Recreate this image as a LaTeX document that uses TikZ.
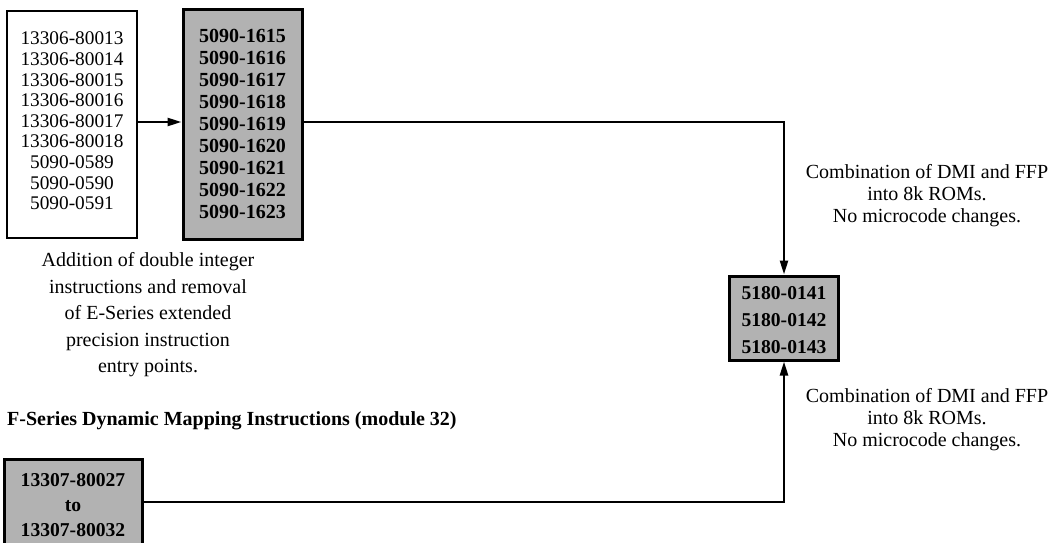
\documentclass[tikz,border=0pt]{standalone}
\usepackage{fontspec}
\setmainfont{Liberation Serif}
\usetikzlibrary{arrows.meta}
\begin{document}
\begin{tikzpicture}[x=1pt,y=-1pt,
  txt/.style={font=\fontsize{20}{22}\selectfont, inner sep=0pt, align=center},
  whitebox/.style={draw, line width=2.6pt, fill=white, inner sep=0pt},
  greybox/.style={draw, line width=3pt, fill=black!30, inner sep=0pt},
  conn/.style={line width=2.4pt},
  arr/.style={conn, -{Triangle[length=14pt,width=8pt]}}]
\useasboundingbox (0,0) rectangle (1058,543);
% left white box
\node[whitebox, minimum width=130pt, minimum height=227pt] (wb) at (72,124.5) {};
\node[txt, font=\fontsize{19.3}{20.6}\selectfont] (wbt) at (72,121) {13306-80013\\13306-80014\\13306-80015\\13306-80016\\13306-80017\\13306-80018\\5090-0589\\5090-0590\\5090-0591};
% shaded box
\node[greybox, minimum width=119pt, minimum height=229pt] (gb) at (242.5,124.5) {};
\node[txt, font=\bfseries\fontsize{20}{22}\selectfont] (gbt) at (242.5,123.5) {5090-1615\\5090-1616\\5090-1617\\5090-1618\\5090-1619\\5090-1620\\5090-1621\\5090-1622\\5090-1623};
% description
\node[txt, font=\fontsize{20}{26.5}\selectfont] (desc) at (148,315) {Addition of double integer\\instructions and removal\\of E-Series extended\\precision instruction\\entry points.};
% combined box
\node[greybox, minimum width=109pt, minimum height=84pt] (cb) at (784,318) {};
\node[txt, font=\bfseries\fontsize{19.6}{27}\selectfont] (cbt) at (784,320) {5180-0141\\5180-0142\\5180-0143};
% right labels
\node[txt] (lab1) at (927,196) {Combination of DMI and FFP\\into 8k ROMs.\\No microcode changes.};
\node[txt] (lab2) at (927,420) {Combination of DMI and FFP\\into 8k ROMs.\\No microcode changes.};
% heading
\node[txt, anchor=west, font=\bfseries\fontsize{20}{22}\selectfont] (head) at (7,421) {F-Series Dynamic Mapping Instructions (module 32)};
% bottom box (runs off the bottom edge)
\node[greybox, minimum width=138pt, minimum height=92pt] (bb) at (73,505) {};
\node[txt, font=\bfseries\fontsize{19.6}{25}\selectfont] (bbt) at (73,505) {13307-80027\\to\\13307-80032};
% connectors
\coordinate (c1) at (cb.north |- 0,122);
\coordinate (c2) at (cb.south |- 0,502);
\draw[arr] (wb.east |- 0,122) -- (gb.west |- 0,122);
\draw[conn, line cap=rect] (gb.east |- 0,122) -- (c1);
\draw[arr] (c1) -- (cb.north);
\draw[conn, line cap=rect] (bb.east |- 0,502) -- (c2);
\draw[arr] (c2) -- (cb.south);
\end{tikzpicture}
\end{document}
